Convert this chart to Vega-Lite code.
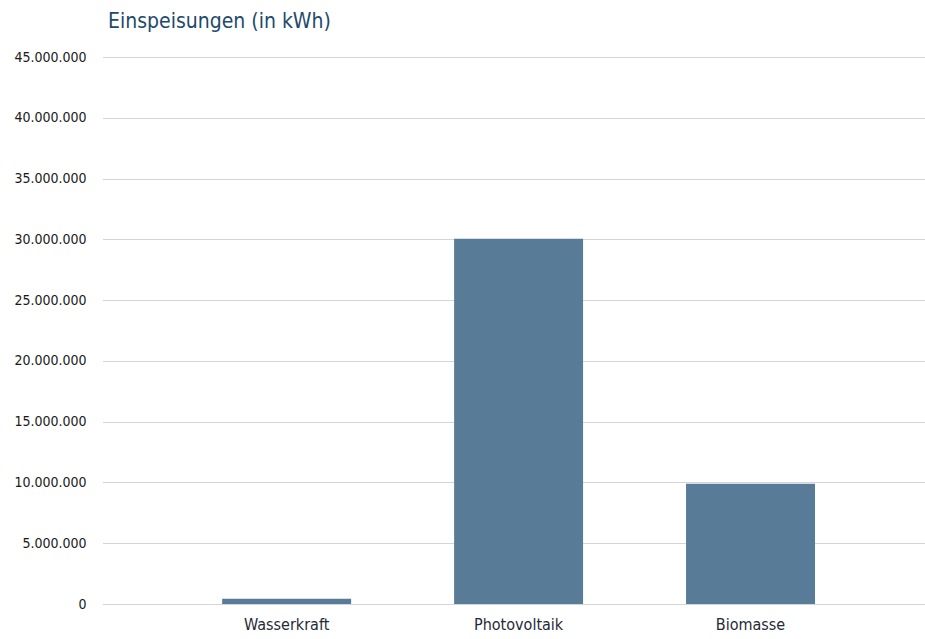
{
  "$schema": "https://vega.github.io/schema/vega-lite/v6.json",
  "autosize": {"type": "none"},
  "width": 822,
  "height": 547,
  "padding": {"left": 103, "top": 57, "right": 0, "bottom": 35},
  "background": "white",
  "title": {
    "text": "Einspeisungen (in kWh)",
    "anchor": "start",
    "frame": "group",
    "orient": "top",
    "offset": 18,
    "dx": 5,
    "font": "DejaVu Sans Condensed, sans-serif",
    "fontSize": 21,
    "fontWeight": "normal",
    "color": "#1d4a6b"
  },
  "config": {
    "view": {"stroke": null},
    "locale": {
      "number": {"decimal": ",", "thousands": ".", "grouping": [3], "currency": ["", " €"]}
    }
  },
  "data": {
    "values": [
      {"Kategorie": "Wasserkraft", "kWh": 440000},
      {"Kategorie": "Photovoltaik", "kWh": 30050000},
      {"Kategorie": "Biomasse", "kWh": 9900000}
    ]
  },
  "mark": {"type": "bar", "color": "#587b97"},
  "encoding": {
    "x": {
      "field": "Kategorie",
      "type": "nominal",
      "sort": null,
      "scale": {"paddingInner": 0.444, "paddingOuter": 0.494, "align": 0.52},
      "axis": {
        "title": null,
        "labelAngle": 0,
        "domain": false,
        "ticks": false,
        "labelFont": "DejaVu Sans Condensed, sans-serif",
        "labelFontSize": 16,
        "labelColor": "#1f2a36",
        "labelPadding": 12
      }
    },
    "y": {
      "field": "kWh",
      "type": "quantitative",
      "scale": {"domain": [0, 45000000], "nice": false},
      "axis": {
        "title": null,
        "values": [0, 5000000, 10000000, 15000000, 20000000, 25000000, 30000000, 35000000, 40000000, 45000000],
        "format": ",d",
        "domain": false,
        "ticks": false,
        "grid": true,
        "gridColor": "#a8a8b2",
        "gridDash": [1, 1],
        "gridWidth": 1,
        "labelFont": "DejaVu Sans Condensed, sans-serif",
        "labelFontSize": 14,
        "labelColor": "#1a1a1a",
        "labelPadding": 17
      }
    }
  }
}
